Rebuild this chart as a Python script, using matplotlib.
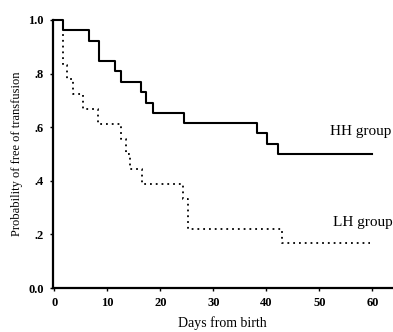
import matplotlib

matplotlib.use("Agg")

import matplotlib.pyplot as plt

# Kaplan-Meier style step data
hh_days = [0, 1.7, 6.5, 8.5, 11.5, 12.6, 16.3, 17.4, 18.6, 24.4, 38.2, 40.1, 42.2, 60]
hh_prob = [1.0, 0.962, 0.923, 0.846, 0.808, 0.769, 0.731, 0.692, 0.654, 0.615,
           0.577, 0.538, 0.5, 0.5]

lh_days = [0, 1.6, 2.4, 3.5, 5.5, 8.2, 12.5, 13.5, 14.3, 16.5, 24.2, 25.3, 43.0, 59.6]
lh_prob = [1.0, 0.833, 0.778, 0.722, 0.667, 0.611, 0.556, 0.5, 0.444, 0.389,
           0.333, 0.222, 0.167, 0.167]

x_ticks = [0, 10, 20, 30, 40, 50, 60]
y_ticks = [0.0, 0.2, 0.4, 0.6, 0.8, 1.0]
y_tick_labels = ["0.0", ".2", ".4", ".6", ".8", "1.0"]

plt.rcParams["font.family"] = ["Liberation Serif", "DejaVu Serif"]

fig = plt.figure(figsize=(3.93, 3.32), dpi=100)
ax = fig.add_axes([0.134, 0.1325, 0.866, 0.8073])

ax.step(hh_days, hh_prob, where="post", color="black", linewidth=1.5,
        clip_on=False, zorder=3)
ax.step(lh_days, lh_prob, where="post", color="black", linewidth=1.3,
        linestyle=(0, (1, 2.2)), clip_on=False, zorder=2)

ax.text(52.0, 0.583, "HH group", fontsize=11, va="center", ha="left")
ax.text(52.5, 0.243, "LH group", fontsize=11, va="center", ha="left")

ax.set_xlim(-0.3, 63.9)
ax.set_ylim(0, 1.0)
ax.set_xticks(x_ticks)
ax.set_xticklabels([str(t) for t in x_ticks], fontsize=9, fontweight="bold")
ax.set_yticks(y_ticks)
ax.set_yticklabels(y_tick_labels, fontsize=9, fontweight="bold")
ax.tick_params(direction="out", length=2.5, width=1, pad=4)

for side in ["top", "right"]:
    ax.spines[side].set_visible(False)
for side in ["left", "bottom"]:
    ax.spines[side].set_linewidth(1.6)

ax.set_xlabel("Days from birth", fontsize=10, labelpad=5)
ax.set_ylabel("Probability of free of transfusion", fontsize=9, labelpad=4)

fig.savefig("out.png", dpi=100)
plt.close(fig)
